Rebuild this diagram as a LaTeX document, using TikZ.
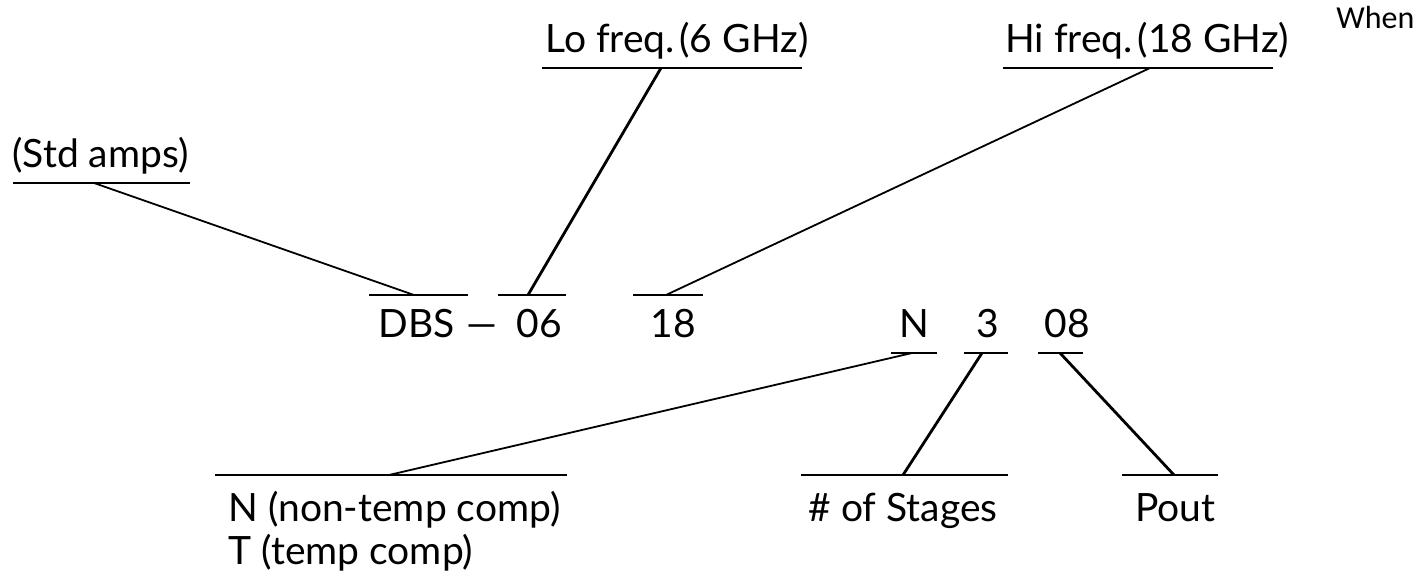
\documentclass[tikz,border=0pt]{standalone}
\usepackage{fontspec}
\setmainfont{Lato}
\newfontfamily\notefont{Carlito}
\begin{document}
\begin{tikzpicture}[x=0.5pt,y=-0.5pt,
  lbl/.style={font=\fontsize{19.5}{23}\selectfont, inner sep=0pt, anchor=base west},
  bar/.style={line width=1.4pt},
  thinlead/.style={line width=0.9pt},
  thicklead/.style={line width=1.4pt}]
\useasboundingbox (0,0) rectangle (1422,576);

% part-number fields
\node[lbl, anchor=base] (dbs) at (417,338) {DBS};
\node[lbl] (dash) at (466,338) {—};
\node[lbl] (lo)   at (516,338) {06};
\node[lbl] (hi)   at (650,338) {18};
\node[lbl] (tc)   at (899,338) {N};
\node[lbl] (stg)  at (976,338) {3};
\node[lbl] (pw)   at (1044,338) {08};

% descriptions
\node[lbl] (std)   at (12,168)  {(Std amps)};
\node[lbl] (lof)   at (545,53)  {Lo freq.\hspace{0.12em}(6 GHz)};
\node[lbl] (hif)   at (1005,53) {Hi freq.\hspace{0.12em}(18 GHz)};
\node[lbl] (ntc)   at (228,521) {N (non-temp comp)};
\node[lbl] (ttc)   at (228,564) {T (temp comp)};
\node[lbl] (nstg)  at (808,521) {\# of Stages};
\node[lbl] (pout)  at (1135,521) {Pout};
\node[font=\notefont\fontsize{16}{18}\selectfont, inner sep=0pt, anchor=base west] (when) at (1336,29) {When};

% underline bars
\draw[bar] (13,183) -- (190,183);
\draw[bar] (542,68) -- (802,68);
\draw[bar] (1003,68) -- (1273,68);
\draw[bar] (369,295) -- (468,295);
\draw[bar] (498,295) -- (566,295);
\draw[bar] (633,295) -- (703,295);
\draw[bar] (891,353) -- (937,353);
\draw[bar] (964,353) -- (1008,353);
\draw[bar] (1038,353) -- (1083,353);
\draw[bar] (215,475) -- (567,475);
\draw[bar] (801,475) -- (1008,475);
\draw[bar] (1122,475) -- (1218,475);

% connector end points on the bars
\coordinate (stdP) at (94,183);
\coordinate (dbsP) at (414,295);
\coordinate (lofP) at (661,68);
\coordinate (loP)  at (528,295);
\coordinate (hifP) at (1150,68);
\coordinate (hiP)  at (666,295);
\coordinate (tcP)  at (912,353);
\coordinate (ntcP) at (389,475);
\coordinate (stgP) at (982,353);
\coordinate (nstgP) at (903,475);
\coordinate (pwP)  at (1060,353);
\coordinate (poutP) at (1174,475);

% leader lines
\draw[thinlead]  (stdP) -- (dbsP);
\draw[thicklead] (lofP) -- (loP);
\draw[thinlead]  (hifP) -- (hiP);
\draw[thinlead]  (tcP) -- (ntcP);
\draw[thicklead] (stgP) -- (nstgP);
\draw[thicklead] (pwP) -- (poutP);
\end{tikzpicture}
\end{document}
